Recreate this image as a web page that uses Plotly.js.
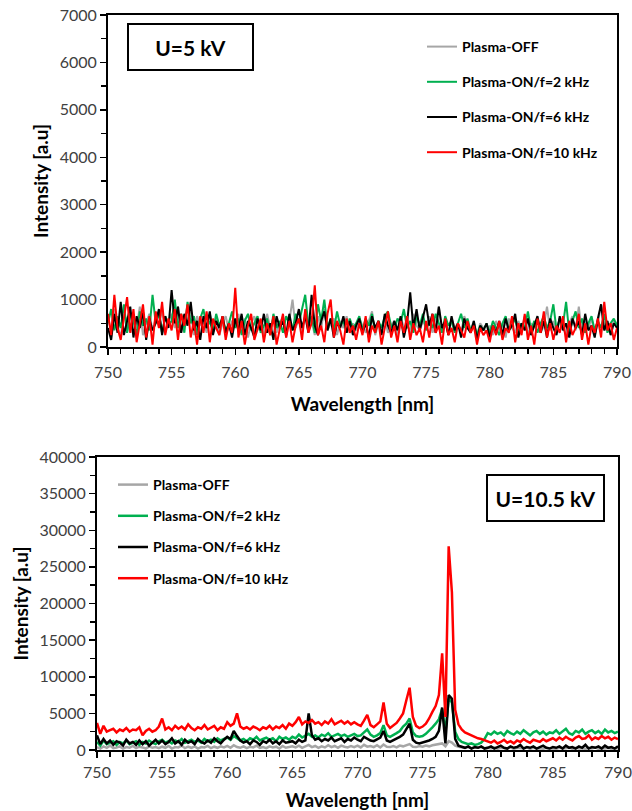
<!DOCTYPE html>
<html>
<head>
<meta charset="utf-8">
<script src="https://cdn.plot.ly/plotly-3.0.1.min.js"></script>
<style>html,body{margin:0;padding:0;background:#fff}#chart{width:632px;height:811px}</style>
</head>
<body>
<div id="chart"></div>
<script>
// Wavelength grid: start and step (nm)
const wlStart = 750;
const wlStep = 0.25;

const seriesNames = ["Plasma-OFF", "Plasma-ON/f=2 kHz", "Plasma-ON/f=6 kHz", "Plasma-ON/f=10 kHz"];
const panelLabels = ["U=5 kV", "U=10.5 kV"];
const xTitle = "Wavelength [nm]";
const yTitle = "Intensity [a.u]";

// ---- U = 5 kV ----
const off5 = [600,350,800,450,200,700,550,300,650,400,850,250,500,700,350,600,450,800,300,550,
700,400,850,300,600,500,750,250,650,450,550,300,700,400,600,250,500,650,350,550,
450,700,300,600,200,500,650,350,550,250,700,400,600,300,500,650,200,550,1000,400,
600,300,750,450,550,250,650,400,800,350,500,600,250,550,400,650,300,500,350,600,
450,300,550,750,250,500,400,600,300,450,550,200,650,400,500,300,700,450,350,550,
400,650,300,500,850,350,550,250,600,400,500,300,650,450,350,550,250,500,400,300,
450,250,550,350,500,200,600,400,300,550,350,650,250,500,400,600,300,450,850,350,
550,300,600,400,250,500,650,350,850,300,550,400,600,250,500,900,350,450,300,550,500];
const f2_5 = [500,800,350,650,400,900,300,700,550,250,750,450,600,350,1100,500,700,300,650,450,
550,1000,400,700,300,950,500,650,250,600,800,400,550,300,700,450,600,350,500,750,
400,600,250,550,700,350,500,650,300,450,600,250,700,400,550,300,650,500,350,700,
500,800,1100,450,650,300,900,550,1000,400,600,350,750,450,550,300,600,400,500,650,
350,600,450,700,300,550,400,650,750,450,350,600,500,800,400,550,300,650,450,700,
350,550,400,700,500,300,650,450,550,300,500,700,400,600,350,500,250,450,350,500,
300,550,400,250,500,650,350,450,600,300,500,400,750,350,550,300,500,650,400,550,
900,350,600,450,950,300,550,750,400,600,300,500,650,350,550,400,700,300,500,600,450];
const f6_5 = [400,150,700,300,950,250,550,850,200,650,400,750,150,600,350,500,800,250,650,400,
1200,500,850,300,700,450,950,350,550,150,650,400,750,250,550,400,650,300,500,200,
600,350,700,250,550,400,200,600,350,700,300,500,150,650,400,550,250,700,350,500,
800,400,650,300,1100,450,250,550,750,350,600,200,500,400,650,300,550,250,450,600,
300,500,200,650,400,550,250,700,450,300,550,350,650,200,500,1150,400,800,350,600,
900,450,700,300,850,400,550,250,650,350,500,200,600,400,300,550,150,450,350,500,
200,450,300,550,250,600,350,450,700,200,500,350,600,250,450,650,300,550,200,600,
400,250,650,350,500,200,600,400,550,250,700,350,450,200,600,900,350,550,250,500,400];
const f10_5 = [700,250,1100,400,150,600,1050,300,800,100,550,900,200,650,50,750,400,950,250,600,
350,800,150,700,450,900,200,550,50,650,300,750,100,600,400,250,650,150,500,300,
1250,200,550,50,450,700,150,400,600,100,500,250,650,50,400,700,200,550,100,450,
600,150,800,300,500,1300,250,450,100,700,1000,200,550,350,50,600,300,450,150,500,
250,650,100,450,300,550,50,400,750,200,450,100,550,300,650,150,500,250,400,100,
550,200,700,300,450,50,600,250,400,100,500,350,200,550,300,450,50,400,250,350,
100,450,250,550,150,400,300,650,100,500,250,700,150,450,50,600,300,750,200,500,
150,450,300,650,100,550,250,400,700,150,500,50,450,300,600,200,950,350,500,150,400];

// ---- U = 10.5 kV ----
const off10 = [400,200,500,300,600,250,350,500,200,400,300,550,250,450,350,200,500,300,400,250,
450,300,550,200,400,350,600,250,450,300,500,200,400,350,550,250,450,300,500,350,
550,300,650,400,300,500,250,450,350,600,300,400,250,500,350,450,200,550,300,400,
500,350,600,300,450,700,400,550,300,500,350,650,400,550,300,600,450,350,550,400,
600,350,700,450,550,400,650,350,750,450,400,550,350,600,500,650,800,450,400,550,
450,600,500,650,700,750,900,500,1200,1000,600,450,350,300,400,250,350,300,400,250,
300,200,350,150,300,250,200,350,150,300,250,200,350,150,300,200,250,150,300,200,
250,150,300,200,250,350,150,300,200,250,150,300,200,350,150,250,200,300,150,250,200];
const f2_10 = [1100,600,1300,800,1000,1200,700,1100,900,1300,800,1000,1200,700,1100,900,1300,1000,800,1200,
1400,1000,1200,900,1300,1100,1500,1000,1200,1400,1100,1300,1000,1500,1200,1400,1100,1600,1300,1500,
1700,1400,1900,1600,1300,1500,1200,1600,1400,1800,1300,1500,1700,1400,1600,1200,1800,1500,1700,1400,
1800,1600,2100,1700,1900,2200,1800,2000,1700,2100,1900,2300,1800,2000,2200,1900,2100,1800,2000,2200,
1900,2000,2400,2800,2100,1800,2000,2300,3400,2000,1800,2000,2300,2600,3200,3600,4300,2400,1900,1800,
1900,2200,2600,3100,3600,4200,5600,2400,7000,6500,2500,1500,1100,900,800,900,700,800,1000,1500,
2300,2100,2500,2200,2400,2000,2600,2300,2100,2500,2200,2700,2300,2000,2400,2600,2200,2500,2100,2400,
2300,2700,2200,2500,2900,2300,2100,2600,2400,2800,2200,2500,2700,2300,2600,2200,2800,2400,2600,2300,2500];
const f6_10 = [2000,800,1500,900,1300,700,1200,1000,600,1400,900,1100,700,1300,800,1200,600,1000,1400,900,
1300,800,1100,1600,900,1200,700,1400,1000,1200,800,1500,1100,900,1300,1000,1600,1200,900,1400,
1800,1500,2600,1900,1300,1000,1200,800,1300,1100,700,1200,1000,1400,900,1200,800,1300,1000,1100,
1200,900,1400,1100,1300,5000,2000,1400,1600,1200,1500,1300,1700,1200,1400,1600,1100,1500,1300,1700,
1400,1200,1800,1500,1300,1200,1500,1700,2600,1300,1100,1300,1500,1800,2100,2800,3600,1400,1000,900,
1000,1100,1300,1500,1800,2600,5800,900,7500,7000,1500,600,400,300,500,200,400,300,500,200,
300,500,200,400,600,300,200,500,300,400,700,200,400,300,500,200,400,600,300,200,
400,300,500,200,600,300,400,200,500,300,700,200,400,300,500,200,600,300,400,200,500];
const f10_10 = [3700,2200,3300,2500,2700,2900,2400,2800,2600,3000,2500,2800,2700,3100,2000,2600,2900,2500,2700,3200,
4300,2800,3100,2700,3300,2900,3200,2800,3500,3000,2700,3100,2900,3400,2800,3000,3300,2700,3100,2900,
3800,3300,3600,5000,3200,2900,3100,2800,3200,3000,2700,3100,2900,3300,2800,3200,3000,3400,2900,3600,
3300,3800,4500,3500,3900,3700,4100,3600,3800,3400,3900,3600,4200,3500,3700,4000,3600,3900,3500,3800,
3500,3300,4000,4800,3400,3100,3500,3900,6500,3600,3000,3300,3700,4300,5000,6800,8500,4500,3300,3000,
3200,3600,4300,5200,6000,7500,13200,4500,27800,21500,5500,3500,2800,2400,2200,1900,1800,1600,1500,1300,
1200,1000,1300,900,1100,1400,1000,1200,900,1300,1100,1500,1200,1000,1400,1300,1100,1500,1200,1400,
1600,1300,1700,1400,1800,1500,1300,1700,1900,1500,1600,2000,1400,1700,1500,1900,1600,1800,1400,1700,1500];

const colors = ["#A6A6A6", "#00B050", "#000000", "#FF0000"];
const FONT = "Lato, 'Open Sans', sans-serif";

const panelTop = [off5, f2_5, f6_5, f10_5];
const panelBot = [off10, f2_10, f6_10, f10_10];
const traces = [];
panelTop.forEach((y, k) => traces.push({
  type: "scatter", mode: "lines", x0: wlStart, dx: wlStep, y: y,
  name: seriesNames[k], line: {color: colors[k], width: 2},
  xaxis: "x", yaxis: "y", legend: "legend", legendgroup: "a" + k
}));
panelBot.forEach((y, k) => traces.push({
  type: "scatter", mode: "lines", x0: wlStart, dx: wlStep, y: y,
  name: seriesNames[k], line: {color: colors[k], width: 2.5},
  xaxis: "x2", yaxis: "y2", legend: "legend2", legendgroup: "b" + k
}));

const W = 632, H = 811;
const tickFont = {family: FONT, size: 16, color: "#404040"};
const titleFont = {family: FONT, size: 19, color: "#000", weight: "bold"};
function xax(dom, anchor, lblOff, tStand) {
  return {
    domain: dom, anchor: anchor, range: [750, 790.001], dtick: 5, tick0: 750,
    showgrid: false, zeroline: false, showline: true, linecolor: "#000", linewidth: 2, mirror: true,
    ticks: "outside", ticklen: 6, tickwidth: 1.5, tickcolor: "#000", ticklabelstandoff: lblOff,
    minor: {dtick: 1, ticks: "outside", ticklen: 5, tickwidth: 1.5, tickcolor: "#000"},
    tickfont: tickFont, title: {text: xTitle, font: titleFont, standoff: tStand}
  };
}
function yax(dom, anchor, max, dt) {
  return {
    domain: dom, anchor: anchor, range: [0, max], dtick: dt, tick0: 0, tickformat: "d",
    showgrid: false, zeroline: false, showline: true, linecolor: "#000", linewidth: 2, mirror: true,
    ticks: "outside", ticklen: 6, tickwidth: 1.5, tickcolor: "#000",
    minor: {dtick: dt / 2, ticks: "outside", ticklen: 5, tickwidth: 1.5, tickcolor: "#000"},
    tickfont: tickFont, title: {text: yTitle, font: titleFont, standoff: 6}
  };
}
const legFont = {family: FONT, size: 14, color: "#000", weight: "bold"};
const layout = {
  width: W, height: H, margin: {l: 0, r: 0, t: 0, b: 0},
  paper_bgcolor: "#fff", plot_bgcolor: "#fff", showlegend: true,
  font: {family: FONT},
  xaxis: xax([108 / W, 617 / W], "y", 4, 17),
  yaxis: yax([1 - 347 / H, 1 - 15 / H], "x", 7000, 1000),
  xaxis2: xax([97 / W, 618 / W], "y2", 1, 14),
  yaxis2: yax([1 - 750 / H, 1 - 457 / H], "x2", 40000, 5000),
  legend: {x: 422 / W, y: 1 - 31 / H, xanchor: "left", yanchor: "top", bgcolor: "rgba(0,0,0,0)",
    font: legFont, tracegroupgap: 14, itemwidth: 30},
  legend2: {x: 113 / W, y: 1 - 469 / H, xanchor: "left", yanchor: "top", bgcolor: "rgba(0,0,0,0)",
    font: legFont, tracegroupgap: 10, itemwidth: 30},
  annotations: [
    {xref: "paper", yref: "paper", x: 190 / W, y: 1 - 47 / H, xanchor: "center", yanchor: "middle",
     text: "<b>" + panelLabels[0] + "</b>",
     showarrow: false, font: {family: FONT, size: 21, color: "#000"}, bordercolor: "#000", borderwidth: 2,
     width: 121, height: 42, bgcolor: "#fff"},
    {xref: "paper", yref: "paper", x: 545 / W, y: 1 - 498 / H, xanchor: "center", yanchor: "middle",
     text: "<b>" + panelLabels[1] + "</b>",
     showarrow: false, font: {family: FONT, size: 21, color: "#000"}, bordercolor: "#000", borderwidth: 2,
     width: 113, height: 42, bgcolor: "#fff"}
  ]
};
Plotly.newPlot("chart", traces, layout, {staticPlot: true, displayModeBar: false});
</script>
</body>
</html>
